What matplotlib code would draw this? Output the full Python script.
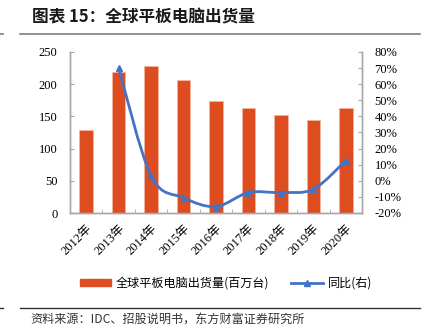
import numpy as np
import matplotlib
matplotlib.use('Agg')
import matplotlib.pyplot as plt
from matplotlib.path import Path
from matplotlib.patches import PathPatch
from matplotlib.lines import Line2D
from matplotlib.patches import Patch

# 数据
years = ['2012年', '2013年', '2014年', '2015年', '2016年', '2017年', '2018年', '2019年', '2020年']
shipments = [128.5, 219.5, 229.0, 206.5, 174.5, 162.5, 151.5, 144.5, 163.5]   # 百万台
yoy = [np.nan, 70.0, 3.0, -10.5, -16.0, -7.3, -7.3, -5.2, 12.5]             # %

bar_color = '#DD4D1F'
line_color = '#4472C4'
serif = ['Liberation Serif', 'Noto Sans CJK SC']
cjk = ['Noto Sans CJK SC', 'DejaVu Sans']

plt.rcParams['font.family'] = cjk

fig = plt.figure(figsize=(4.26, 3.34), dpi=100)
ax = fig.add_axes([70 / 426, 1 - 213 / 334, 292 / 426, 161 / 334])
ax2 = ax.twinx()

x = np.arange(len(years))
ax.bar(x, shipments, width=0.42, color=bar_color, edgecolor='#F4B7A0', linewidth=0.5, zorder=2)
ax.set_xlim(-0.5, len(years) - 0.5)
ax.set_ylim(0, 250)
ax.set_yticks(range(0, 251, 50))

# x轴: 标签在中间, 刻度在分界处
ax.set_xticks(x)
ax.set_xticklabels(years, rotation=45, ha='right', rotation_mode='anchor', family=serif, fontsize=9)
ax.set_xticks(np.arange(0.5, len(years) - 0.5, 1), minor=True)
ax.tick_params(axis='x', which='major', length=0, pad=7)
ax.tick_params(axis='x', which='minor', length=3, direction='in', color='#A6A6A6')
ax.tick_params(axis='y', direction='in', length=3, color='#A6A6A6', labelsize=9, pad=9)
for lab in ax.get_yticklabels():
    lab.set_family(serif)

for a in (ax, ax2):
    a.spines['top'].set_visible(False)
    for s in ['left', 'right', 'bottom']:
        a.spines[s].set_color('#A6A6A6')
        a.spines[s].set_linewidth(1)

# 同比: 平滑曲线 (Catmull-Rom -> 贝塞尔)
ax2.set_ylim(-20, 80)
ax2.set_yticks(range(-20, 81, 10))
ax2.set_yticklabels([f'{v}%' for v in range(-20, 81, 10)], family=serif, fontsize=9)
ax2.tick_params(axis='y', direction='in', length=3, color='#A6A6A6', pad=9)

pts = np.array([(xi, yi) for xi, yi in zip(x, yoy) if not np.isnan(yi)], dtype=float)
verts = [tuple(pts[0])]
codes = [Path.MOVETO]
n = len(pts)
for i in range(n - 1):
    p0 = pts[max(i - 1, 0)]
    p1 = pts[i]
    p2 = pts[i + 1]
    p3 = pts[min(i + 2, n - 1)]
    c1 = p1 + (p2 - p0) / 6
    c2 = p2 - (p3 - p1) / 6
    verts += [tuple(c1), tuple(c2), tuple(p2)]
    codes += [Path.CURVE4] * 3
ax2.add_patch(PathPatch(Path(verts, codes), facecolor='none', edgecolor=line_color, lw=2, zorder=3))
ax2.plot(x, yoy, ls='none', marker='^', ms=4.5, color=line_color, zorder=4)

# 图例
handles = [Patch(facecolor=bar_color, edgecolor=bar_color),
           Line2D([], [], color=line_color, lw=2, marker='^', ms=4)]
fig.legend(handles, ['全球平板电脑出货量(百万台)', '同比(右)'], loc='center',
           bbox_to_anchor=(0.53, 1 - 283 / 334), ncol=2, frameon=False,
           fontsize=8.7, handlelength=2.6, handleheight=0.5, handletextpad=0.4,
           columnspacing=1.8)

# 标题与来源
fig.text(32 / 426, 1 - 17 / 334, '图表 15：全球平板电脑出货量', fontsize=12,
         fontweight='bold', va='center', ha='left', color='#1A1A1A')
fig.add_artist(Line2D([20 / 426, 420 / 426], [1 - 33.5 / 334] * 2, color='#7F7F7F', lw=1.2))
fig.add_artist(Line2D([0, 3 / 426], [1 - 33.5 / 334] * 2, color='#7F7F7F', lw=1.2))
fig.add_artist(Line2D([20 / 426, 420 / 426], [1 - 308 / 334] * 2, color='#333333', lw=1))
fig.add_artist(Line2D([0, 3 / 426], [1 - 308 / 334] * 2, color='#333333', lw=1))
fig.text(30 / 426, 1 - 319 / 334, '资料来源：IDC、招股说明书，东方财富证券研究所',
         fontsize=8.7, va='center', ha='left', color='#333333')

fig.savefig('out.png', dpi=100)
